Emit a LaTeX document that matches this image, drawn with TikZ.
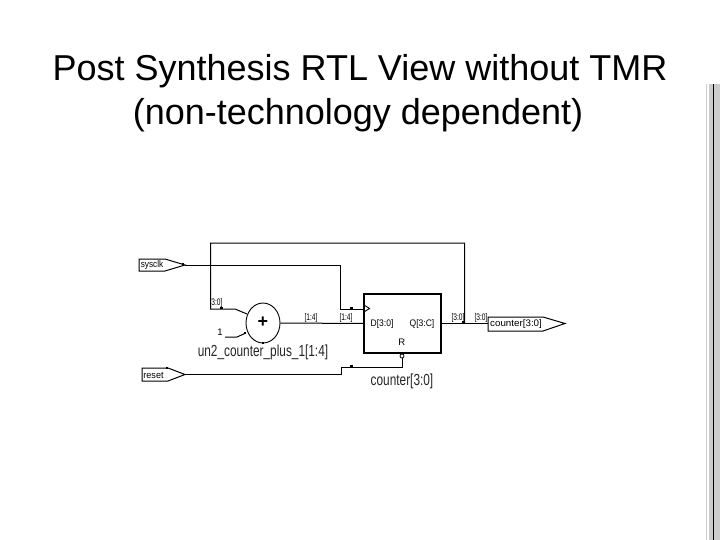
\documentclass[tikz,border=0pt]{standalone}
\usepackage{fontspec}
\usepackage{graphicx}
\setmainfont{Liberation Sans}
\usetikzlibrary{calc,shapes.geometric}
\newcommand{\narrow}[2]{\scalebox{#1}[1]{#2}}
\tikzset{
  wire/.style={draw=black,line width=1pt},
  thickbox/.style={draw=black,line width=1.7pt,fill=white},
  port/.style={draw=black,line width=1pt,fill=white},
  tiny/.style={font=\fontsize{9.5}{10}\selectfont,inner sep=0pt,text=black},
  inst/.style={font=\fontsize{16}{17}\selectfont,inner sep=0pt,text=black!85},
  dotm/.style={fill=black,inner sep=0pt,minimum size=2.4pt,draw=none,rectangle},
  title/.style={font=\fontsize{36}{40}\selectfont,inner sep=0pt,align=center}
}
\begin{document}
\begin{tikzpicture}[x=1pt,y=-1pt]
\useasboundingbox (0,0) rectangle (720,540);
\fill[white] (0,0) rectangle (720,540);
% title
\node[title] (titleA) at (360,71) {Post Synthesis RTL View without TMR};
\node[title] (titleB) at (358,115) {(non-technology dependent)};
% scrollbar strip
\fill[black!20] (706,84) rectangle (707,540);
\fill[black!20] (709,84) rectangle (719.5,540);
\fill[black] (712.5,84) rectangle (714,540);
% coordinates
\coordinate (sysclkTip) at (185,265);
\coordinate (resetTip) at (185,374.5);
\coordinate (outBase) at (488,323.5);
\coordinate (outTip) at (565,323.5);
% ports
\draw[port] (139,259) -- (165,259) -- (sysclkTip) -- (165,271) -- (139,271) -- cycle;
\draw[port] (142,368) -- (168,368) -- (resetTip) -- (168,381) -- (142,381) -- cycle;
\draw[port] (488,317) -- (543,317) -- (outTip) -- (543,331) -- (488,331) -- cycle;
\node[tiny] (sysclk) at (152,265) {\narrow{.87}{sysclk}};
\node[tiny] (reset) at (153.5,375) {\narrow{.95}{reset}};
\node[tiny,anchor=west] (counterOut) at (490,324) {\narrow{1.03}{counter[3:0]}};
% adder
\node[draw=black,line width=0.9pt,ellipse,minimum width=34pt,minimum height=40pt,inner sep=0pt,fill=white] (adder) at (263,323) {};
\node[font=\bfseries\fontsize{18}{18}\selectfont,inner sep=0pt] (plus) at (263,322) {+};
\node[inst] (addername) at (263,352) {\narrow{.74}{un2\_counter\_plus\_1[1:4]}};
\node[tiny] (one) at (220,332) {1};
% register
\node[thickbox,minimum width=77pt,minimum height=59pt,inner sep=0pt] (reg) at (402.3,323.5) {};
\node[tiny] (d) at (382,324) {\narrow{.9}{D[3:0]}};
\node[tiny] (q) at (422,324) {\narrow{.9}{Q[3:C]}};
\node[tiny] (r) at (401.7,342) {R};
\node[inst] (regname) at (402,381) {\narrow{.74}{counter[3:0]}};
% clock mark and reset bubble
\coordinate (clk) at (364,309);
\draw[line width=0.9pt] (364,305) -- (369.5,308.5) -- (364,312);
\node[circle,draw=black,line width=0.8pt,fill=white,inner sep=0pt,minimum size=4pt] (bub) at (402,356) {};
% wires
\coordinate (fbR) at (464.7,323.5);
\coordinate (fbTR) at (464.7,243);
\coordinate (fbTL) at (210.7,243);
\coordinate (fbBL) at (210.7,309);
\coordinate (fbK) at (235,309);
\coordinate (addA) at (247,314);
\coordinate (oneA) at (225,337);
\coordinate (oneB) at (237,337);
\coordinate (addB) at (246,333);
\draw[wire] (fbR) -- (fbTR) -- (fbTL) -- (fbBL) -- (fbK) -- (addA);
\draw[wire] (oneA) -- (oneB) -- (addB);
\draw[wire] (adder.east) -- (364,323.5);
\draw[wire] (reg.east) -- (outBase);
\coordinate (ckA) at (340.7,265);
\coordinate (ckB) at (340.7,309);
\draw[wire] (sysclkTip) -- (ckA) -- (ckB) -- (clk);
\coordinate (rsA) at (341,374.5);
\coordinate (rsB) at (341,367.5);
\coordinate (rsC) at (402,367.5);
\draw[wire] (resetTip) -- (rsA) -- (rsB) -- (rsC) -- (bub);
% bus labels
\node[tiny] (l1) at (216,303) {\narrow{.7}{[3:0]}};
\node[tiny] (l2) at (311,318) {\narrow{.7}{[1:4]}};
\node[tiny] (l3) at (346,318) {\narrow{.7}{[1:4]}};
\node[tiny] (l4) at (458,318) {\narrow{.7}{[3:0]}};
\node[tiny] (l5) at (481,318) {\narrow{.7}{[3:0]}};
% small pin marks
\node[dotm] (m1) at (221.5,308) {};
\node[dotm] (m2) at (351.5,308) {};
\node[dotm] (m3) at (351.5,366.5) {};
\node[dotm] (m4) at (183,264) {};
\node[dotm] (m5) at (167,368) {};
\node[dotm] (m6) at (263,343) {};
\node[dotm] (m7) at (245,333) {};
\node[dotm] (m8) at (463,322.5) {};
\end{tikzpicture}
\end{document}
